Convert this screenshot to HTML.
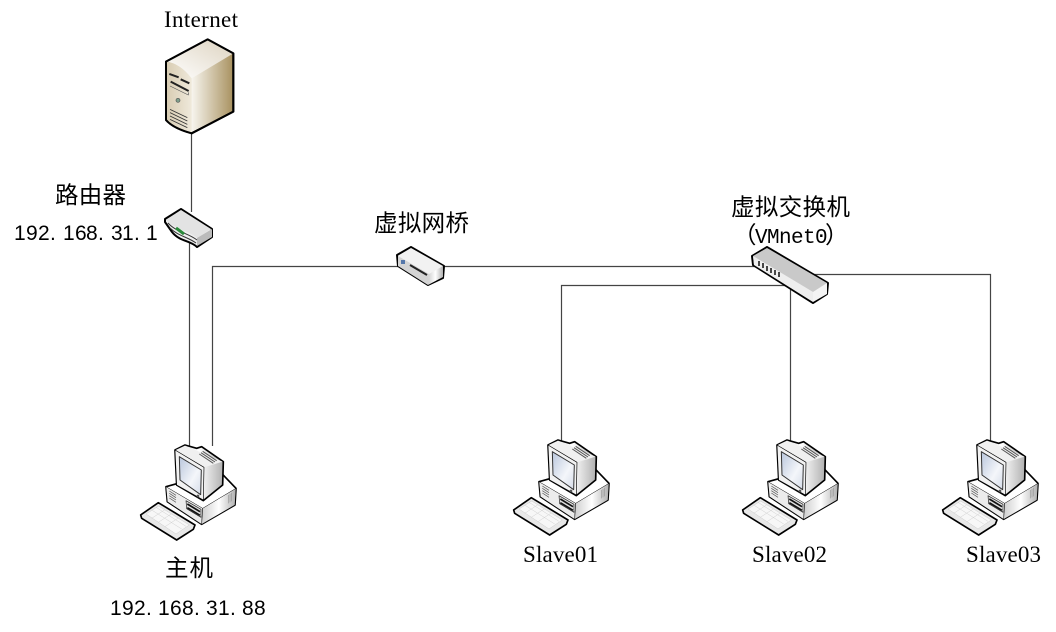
<!DOCTYPE html>
<html><head><meta charset="utf-8"><style>
html,body{margin:0;padding:0;background:#fff}
svg{display:block}
.s{font-family:"Liberation Serif",serif;font-size:23px;fill:#000}
.c{font-family:"Liberation Sans","Noto Sans CJK SC",sans-serif;font-size:23.5px;fill:#000}
.n{font-family:"Liberation Sans",sans-serif;font-size:21px;fill:#000}
.m{font-family:"Liberation Mono",monospace;font-size:21px;fill:#000}
</style></head><body>
<svg width="1056" height="632" viewBox="0 0 1056 632" xmlns="http://www.w3.org/2000/svg">
<defs>
<linearGradient id="sf" x1="0" x2="1" y1="0" y2="0"><stop offset="0" stop-color="#d8ccb2"/><stop offset="1" stop-color="#efe9db"/></linearGradient>
<linearGradient id="sr" x1="0" x2="1" y1="0" y2="0"><stop offset="0" stop-color="#cdbd9b"/><stop offset=".35" stop-color="#fbfaf6"/><stop offset="1" stop-color="#a8915f"/></linearGradient>
<linearGradient id="st" x1="0" x2="1" y1="1" y2="0"><stop offset="0" stop-color="#fff"/><stop offset="1" stop-color="#ddd3c0"/></linearGradient>
<linearGradient id="gr" x1="0" x2="1" y1="0" y2="0"><stop offset="0" stop-color="#cfcfcf"/><stop offset=".5" stop-color="#fff"/><stop offset="1" stop-color="#b0b0b0"/></linearGradient>
<linearGradient id="sc" x1="0" x2="1" y1="0" y2="1"><stop offset="0" stop-color="#b9c6dc"/><stop offset=".6" stop-color="#f4f6fa"/><stop offset="1" stop-color="#d4dbe8"/></linearGradient>
<g id="pc" transform="translate(130,430) scale(.3333)" stroke-linejoin="round">
  <polygon points="108,170 270,125 318,175 315,225 215,283 112,215" fill="#fff" stroke="#000" stroke-width="5"/>
  <polygon points="108,170 218,235 215,283 112,215" fill="#ececec" stroke="#000" stroke-width="1.500"/>
  <polygon points="218,235 318,175 315,225 215,283" fill="url(#gr)" stroke="#000" stroke-width="1.500"/>
  <g stroke="#555" stroke-width="2"><path d="M118,183l20,13M118,190l20,13M118,197l20,13M118,204l20,13"/><path d="M295,195v25M300,192v25M305,189v25" stroke="#999"/></g>
  <polygon points="168,212 213,238 213,262 170,236" fill="#ddd" stroke="#222" stroke-width="2"/>
  <path d="M172,233l38,23M172,222l38,23" stroke="#111" stroke-width="5"/>
  <polygon points="135,60 165,45 200,55 215,50 280,95 278,165 220,212 140,165" fill="url(#gr)" stroke="#000" stroke-width="5"/>
  <polygon points="137,60 165,47 278,95 222,112" fill="#f0f0f0"/>
  <polygon points="135,60 222,112 220,210 140,165" fill="#f2f2f2" stroke="#000" stroke-width="2"/>
  <polygon points="148,80 214,120 212,194 150,150" fill="url(#sc)" stroke="#333" stroke-width="3"/>
  <path d="M208,72l42,28M213,68l42,28M218,64l42,28" stroke="#555" stroke-width="3"/>
  <circle cx="204" cy="198" r="4" fill="#555"/>
  <polygon points="32,255 85,218 195,285 190,298 140,330 35,265" fill="#e8e8e8" stroke="#000" stroke-width="5"/>
  <polygon points="48,252 86,228 178,285 138,312" fill="#f7f7f7" stroke="#ccc" stroke-width="1.500"/>
  <path d="M65,240l90,57M78,232l90,57M65,265l40,-26M85,277l40,-26M105,290l40,-26" stroke="#d0d0d0" stroke-width="1.500" fill="none"/>
</g>
</defs>

<g fill="none" stroke="#444" stroke-width="1.200">
  <path d="M191.500,130V212"/>
  <path d="M189.500,240V446"/>
  <path d="M212.500,446V266.500H400"/>
  <path d="M443,266.500H760"/>
  <path d="M561.500,441V285.500H790.500"/>
  <path d="M790.500,285.500V441"/>
  <path d="M810,274.500H990.500V441"/>
</g>

<!-- server -->
<g transform="translate(130,0) scale(.3333)" stroke-linejoin="round">
  <path d="M108,185L233,118L310,160V335L185,400Q130,385 108,360Z" fill="url(#sr)" stroke="#000" stroke-width="6"/>
  <path d="M108,185L233,118L310,160L185,235Q150,190 108,185Z" fill="url(#st)"/>
  <path d="M108,185Q150,190 185,235V398Q130,385 108,360Z" fill="url(#sf)"/>
  <path d="M118,222l28,10M152,238l26,12M122,245l54,28" stroke="#222" stroke-width="6" fill="none"/>
  <path d="M120,258l55,27v-8" stroke="#555" stroke-width="2" fill="none"/>
  <circle cx="144" cy="301" r="6" fill="#7fa08c" stroke="#555" stroke-width="2"/>
  <path d="M120,328l52,25M120,338l52,25M120,348l52,25M120,358l52,25" stroke="#333" stroke-width="2.500" fill="none"/>
  <path d="M108,185L233,118L310,160V335L185,400Q130,385 108,360Z" fill="none" stroke="#000" stroke-width="6"/>
</g>

<!-- router -->
<g stroke-linejoin="round">
  <path d="M165,219L181,209L212,229V237L197,247C190,240 180,242 172,232L165,222Z" fill="#eee" stroke="#000" stroke-width="2"/>
  <path d="M166,220L181,210L211,229L197,238C188,230 176,230 166,220Z" fill="#e3e3e3"/>
  <path d="M197,238L212,229V237L197,246Z" fill="#bbb"/>
  <path d="M168,223C176,232 188,233 197,240M170,228C178,236 188,237 196,243" stroke="#333" stroke-width="1" fill="none"/>
  <path d="M176,228l8,6" stroke="#2a8a3a" stroke-width="3"/>
</g>

<!-- bridge -->
<g stroke-linejoin="round">
  <polygon points="397,255 411,247 444,266 443,278 428,285 398,266" fill="#eee" stroke="#000" stroke-width="2"/>
  <polygon points="398,256 411,248 443,266 429,274" fill="#f2f2f2"/>
  <polygon points="429,274 443,266 443,277 428,285" fill="url(#gr)"/>
  <polygon points="398,256 429,274 428,285 398,266" fill="#d4d4d4"/>
  <path d="M410,265l17,10" stroke="#222" stroke-width="2"/>
  <rect x="401" y="260" width="4" height="4" fill="#5577aa"/>
</g>

<!-- switch -->
<g stroke-linejoin="round">
  <polygon points="752,256 767,247 828,283 827,294 813,303 753,265" fill="#ddd" stroke="#000" stroke-width="2"/>
  <polygon points="753,256 767,248 827,283 813,292" fill="#c9c9c9"/>
  <polygon points="753,256 813,292 813,302 754,265" fill="#eee"/>
  <polygon points="813,292 827,283 827,294 813,302" fill="#f4f4f4"/>
  <path d="M759,261v5M763,263v5M767,266v5M771,268v5M775,270v5M779,272v5" stroke="#333" stroke-width="1.800"/>
</g>

<use href="#pc"/>
<use href="#pc" x="373" y="-5"/>
<use href="#pc" x="602" y="-5"/>
<use href="#pc" x="802" y="-5"/>

<text class="s" x="164" y="27" textLength="74">Internet</text>
<text class="c" x="55" y="203" textLength="71">路由器</text>
<text class="n" x="14 26 38 50 63 75 86 98 111 122 134 146" y="240">192.168.31.1</text>
<text class="c" x="374" y="231" textLength="95">虚拟网桥</text>
<text class="c" x="731" y="215" textLength="119">虚拟交换机</text>
<text class="c" x="733" y="243">（</text>
<text class="m" x="755 767 779 791 803 815" y="243">VMnet0</text>
<text class="c" x="825" y="243">）</text>
<text class="c" x="165" y="576" textLength="48">主机</text>
<text class="n" x="110 122 134 146 158 170 182 194 206 218 230 242 254" y="615">192.168.31.88</text>
<text class="s" x="523" y="562" textLength="75">Slave01</text>
<text class="s" x="752" y="562" textLength="75">Slave02</text>
<text class="s" x="966" y="562" textLength="75">Slave03</text>
</svg>
</body></html>
